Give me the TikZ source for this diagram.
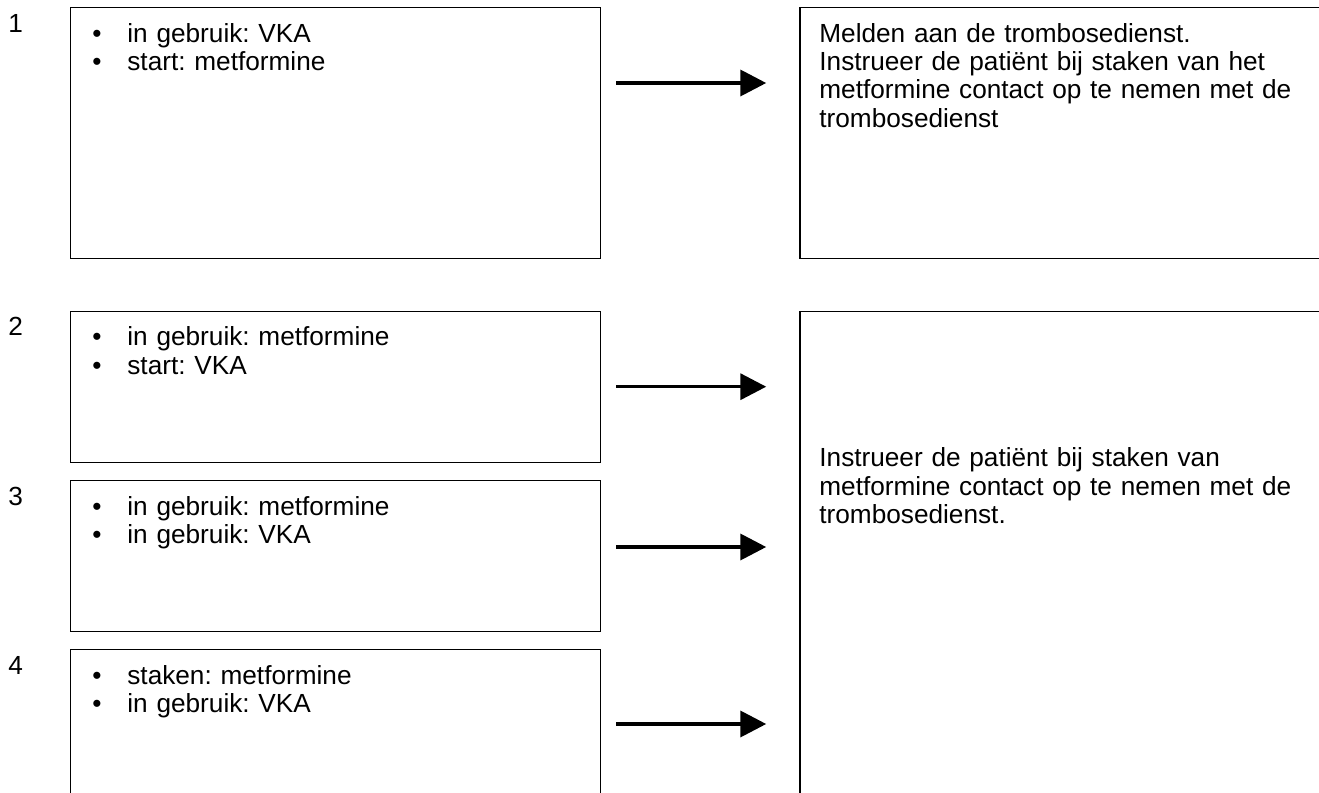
\documentclass[tikz,border=0pt]{standalone}
\usepackage{fontspec}
\setmainfont{Liberation Sans}
\usetikzlibrary{arrows.meta,positioning,calc}
\frenchspacing
\newcommand{\bulletline}[1]{\makebox[17.5pt][l]{\textbullet}#1}
\tikzset{
  base/.style={font=\fontsize{13.1}{14.2}\selectfont, inner sep=0pt, text=black},
  box/.style={rectangle, draw=black, line width=0.6pt, fill=white, anchor=north west, inner sep=0pt, minimum width=265pt},
  num/.style={base, anchor=base west},
  txt/.style={base, anchor=base west, align=left, text width=250pt},
  arr/.style={-{Triangle[length=12.9pt,width=13pt]}, line width=1.65pt, draw=black},
}
\begin{document}
\begin{tikzpicture}[x=0.5pt,y=-0.5pt]
  \useasboundingbox (0,0) rectangle (1319,793);
  \clip (0,0) rectangle (1319,793);
  % situations (left column)
  \node[box, minimum height=125.25pt] (sit1) at (69.5,7) {};
  \node[box, minimum height=75.5pt] (sit2) at (69.5,310.7) {};
  \node[box, minimum height=75.35pt] (sit3) at (69.5,480) {};
  \node[box, minimum height=75.5pt] (sit4) at (69.5,649) {};
  % advice (right column), runs off the page
  \node[box, minimum height=125.25pt] (adv1) at (799.3,7) {};
  \node[box, minimum height=260pt] (adv2) at (799.3,310.7) {};
  \foreach \s/\n in {sit1/1,sit2/2,sit3/3,sit4/4}
    \node[num] (nr\n) at ($(\s.north west)+(-61.5,25)$) {\n};
  \node[txt] (lst1) at ($(sit1.north west)+(22.5,35)$) {\bulletline{in gebruik: VKA}\\\bulletline{start: metformine}};
  \node[txt] (lst2) at ($(sit2.north west)+(22.5,35)$) {\bulletline{in gebruik: metformine}\\\bulletline{start: VKA}};
  \node[txt] (lst3) at ($(sit3.north west)+(22.5,35)$) {\bulletline{in gebruik: metformine}\\\bulletline{in gebruik: VKA}};
  \node[txt] (lst4) at ($(sit4.north west)+(22.5,35)$) {\bulletline{staken: metformine}\\\bulletline{in gebruik: VKA}};
  \node[txt] (adv1txt) at ($(adv1.north west)+(19.7,35)$) {Melden aan de trombosedienst.\\Instrueer de patiënt bij staken van het\\metformine contact op te nemen met de\\trombosedienst};
  \node[txt] (adv2txt) at ($(adv2.north west)+(19.7,156)$) {Instrueer de patiënt bij staken van\\metformine contact op te nemen met de\\trombosedienst.};
  % arrows between the columns
  \foreach \s/\dy in {sit1/76,sit2/76,sit3/67,sit4/75}
    \draw[arr] ($(\s.north east)+(15.5,\dy)$) coordinate (\s a) -- ++(150,0) coordinate (\s b);
\end{tikzpicture}
\end{document}
